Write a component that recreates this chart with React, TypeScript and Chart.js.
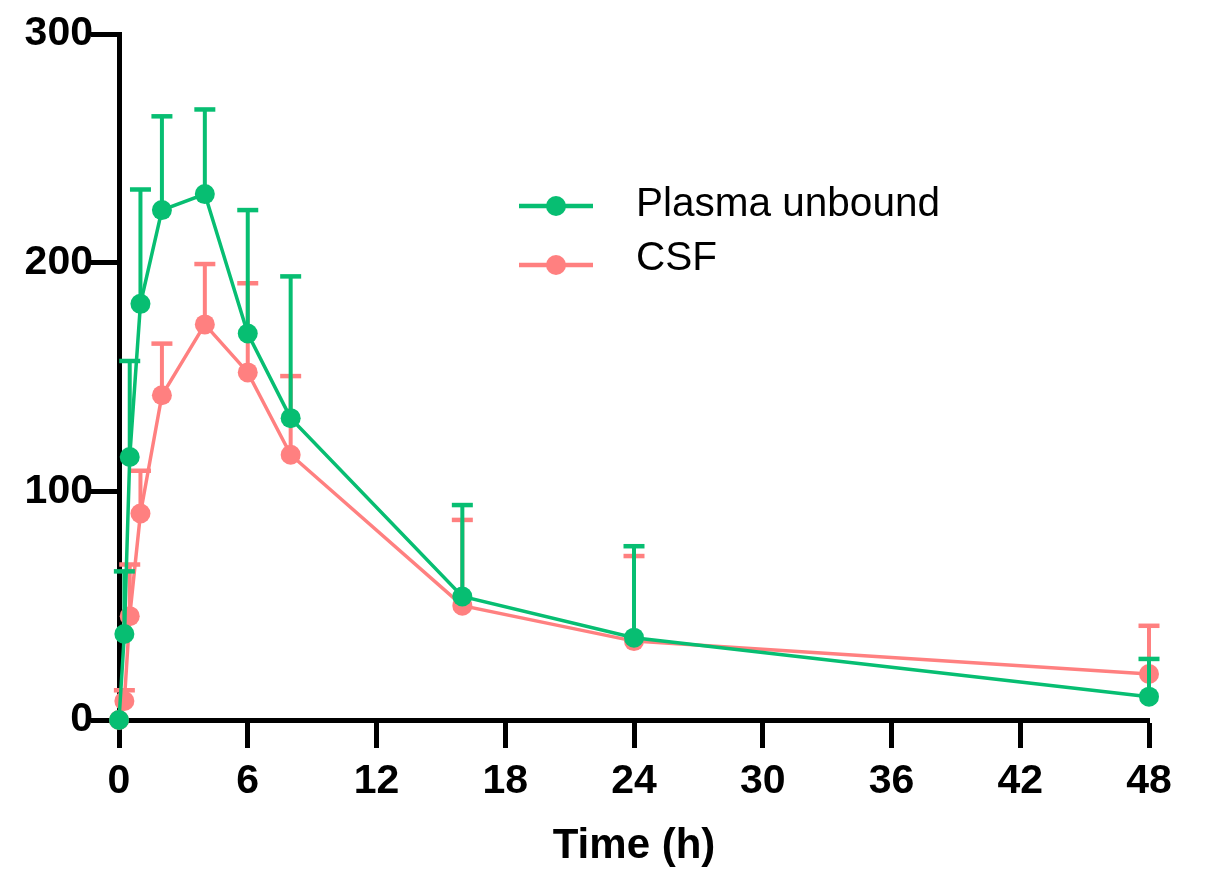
import React, { useEffect, useRef } from "react";
import { Chart, registerables } from "chart.js";

Chart.register(...registerables);

// Sampling times (h)
const times = [0, 0.25, 0.5, 1, 2, 4, 6, 8, 16, 24, 48];

// Plasma unbound concentration: mean and upper SD
const plasmaMean = [0, 37.6, 115, 182, 223, 230, 169, 132, 54, 36, 10.2];
const plasmaSD = [0, 27.4, 42, 50, 41, 37, 54, 62, 40, 40, 16.5];

// CSF concentration: mean and upper SD
const csfMean = [0, 8.3, 45.4, 90.3, 142, 173, 152, 116, 50, 34.5, 20.1];
const csfSD = [0, 4.7, 22.6, 18.7, 22.6, 26.4, 39, 34.4, 37.5, 37.2, 21.1];

const xTicks = [0, 6, 12, 18, 24, 30, 36, 42, 48];
const yTicks = [0, 100, 200, 300];

const GREEN = "#07BE72";
const SALMON = "#FF8080";
const FONT = "'Liberation Sans', Arial, sans-serif";

// Upper-only error bars with caps, drawn under each dataset's line and markers
const errorBarPlugin = {
  id: "errorBars",
  beforeDatasetDraw(chart: any, args: any) {
    const ds = chart.data.datasets[args.index];
    const sd: number[] = ds.errorPlus;
    if (!sd) return;
    const xs = chart.scales.x;
    const ys = chart.scales.y;
    const ctx = chart.ctx;
    ctx.save();
    ctx.strokeStyle = ds.borderColor;
    ctx.lineWidth = 4;
    ctx.lineCap = "butt";
    ds.data.forEach((p: any, i: number) => {
      if (!sd[i]) return;
      const x = xs.getPixelForValue(p.x);
      const y0 = ys.getPixelForValue(p.y);
      const y1 = ys.getPixelForValue(p.y + sd[i]);
      ctx.beginPath();
      ctx.moveTo(x, y0);
      ctx.lineTo(x, y1);
      ctx.stroke();
      ctx.lineWidth = 4.5;
      ctx.beginPath();
      ctx.moveTo(x - 10.5, y1);
      ctx.lineTo(x + 10.5, y1);
      ctx.stroke();
      ctx.lineWidth = 4;
    });
    ctx.restore();
  },
};

// Legend: line with a dot, followed by the series name
const legendPlugin = {
  id: "lineDotLegend",
  afterDraw(chart: any) {
    const ctx = chart.ctx;
    const area = chart.chartArea;
    const x0 = area.left + 400;
    const rows = [
      { ds: chart.data.datasets[0], lineY: area.top + 172, baseY: area.top + 182 },
      { ds: chart.data.datasets[1], lineY: area.top + 231, baseY: area.top + 236 },
    ];
    ctx.save();
    rows.forEach((r) => {
      ctx.strokeStyle = r.ds.borderColor;
      ctx.fillStyle = r.ds.borderColor;
      ctx.lineWidth = 4.5;
      ctx.beginPath();
      ctx.moveTo(x0, r.lineY);
      ctx.lineTo(x0 + 74, r.lineY);
      ctx.stroke();
      ctx.beginPath();
      ctx.arc(x0 + 37, r.lineY, 10, 0, Math.PI * 2);
      ctx.fill();
      ctx.fillStyle = "#000";
      ctx.font = `40.5px ${FONT}`;
      ctx.textAlign = "left";
      ctx.textBaseline = "alphabetic";
      ctx.fillText(r.ds.label, x0 + 117, r.baseY);
    });
    ctx.restore();
  },
};

export default function App() {
  const canvasRef = useRef<HTMLCanvasElement | null>(null);

  useEffect(() => {
    if (!canvasRef.current) return;
    const toPoints = (vals: number[]) => vals.map((v, i) => ({ x: times[i], y: v }));
    const chart = new Chart(canvasRef.current, {
      type: "line",
      data: {
        datasets: [
          {
            label: "Plasma unbound",
            data: toPoints(plasmaMean),
            errorPlus: plasmaSD,
            borderColor: GREEN,
            backgroundColor: GREEN,
            pointBackgroundColor: GREEN,
            pointBorderWidth: 0,
            pointRadius: 10,
            borderWidth: 3.5,
            clip: false,
          } as any,
          {
            label: "CSF",
            data: toPoints(csfMean),
            errorPlus: csfSD,
            borderColor: SALMON,
            backgroundColor: SALMON,
            pointBackgroundColor: SALMON,
            pointBorderWidth: 0,
            pointRadius: 10,
            borderWidth: 3.5,
            clip: false,
          } as any,
        ],
      },
      options: {
        animation: false,
        responsive: false,
        events: [],
        layout: { padding: { top: 26, right: 67, left: 0, bottom: 0 } },
        plugins: { legend: { display: false }, tooltip: { enabled: false } },
        scales: {
          x: {
            type: "linear",
            min: 0,
            max: 48,
            afterBuildTicks: (s: any) => {
              s.ticks = xTicks.map((v) => ({ value: v }));
            },
            afterFit: (s: any) => {
              s.height = 152;
            },
            border: { display: true, color: "#000", width: 5 },
            grid: {
              drawOnChartArea: false,
              drawTicks: true,
              tickLength: 28,
              tickWidth: 5,
              tickColor: "#000",
            },
            ticks: {
              color: "#000",
              font: { family: FONT, size: 41, weight: "bold" },
              padding: 9,
              maxRotation: 0,
              autoSkip: false,
            },
            title: {
              display: true,
              text: "Time (h)",
              color: "#000",
              font: { family: FONT, size: 42, weight: "bold" },
              padding: { top: 9, bottom: 0 },
            },
          },
          y: {
            type: "linear",
            min: 0,
            max: 300,
            afterBuildTicks: (s: any) => {
              s.ticks = yTicks.map((v) => ({ value: v }));
            },
            afterFit: (s: any) => {
              s.width = 111;
            },
            border: { display: true, color: "#000", width: 5 },
            grid: {
              drawOnChartArea: false,
              drawTicks: true,
              tickLength: 28,
              tickWidth: 5,
              tickColor: "#000",
            },
            ticks: {
              color: "#000",
              font: { family: FONT, size: 41, weight: "bold" },
              padding: -2,
            },
          },
        },
      } as any,
      plugins: [errorBarPlugin, legendPlugin],
    });
    return () => chart.destroy();
  }, []);

  return (
    <div style={{ width: 1208, height: 864 }}>
      <canvas ref={canvasRef} width={1208} height={864} style={{ width: 1208, height: 864 }} />
    </div>
  );
}
